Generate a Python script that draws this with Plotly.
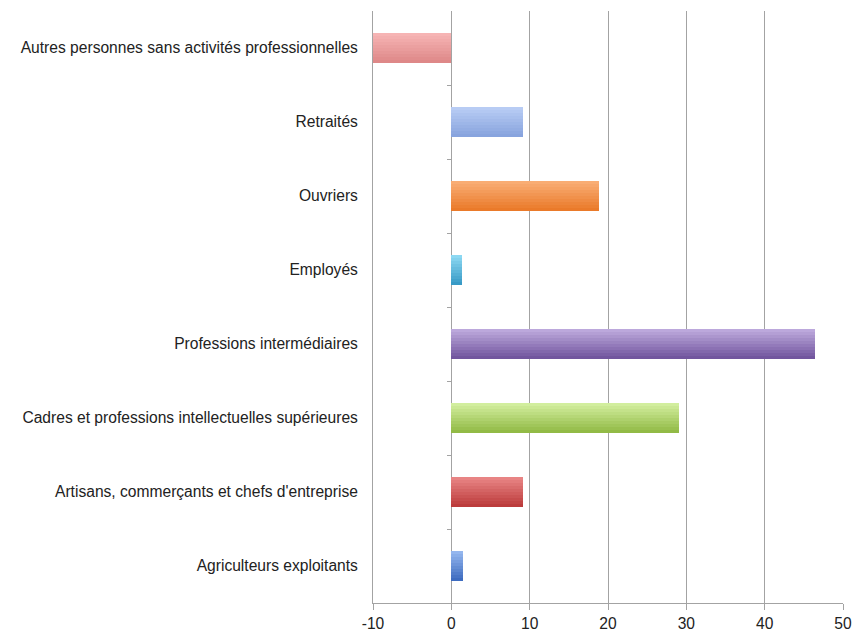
import plotly.graph_objects as go

categories = [
    "Agriculteurs exploitants",
    "Artisans, commerçants et chefs d'entreprise",
    "Cadres et professions intellectuelles supérieures",
    "Professions intermédiaires",
    "Employés",
    "Ouvriers",
    "Retraités",
    "Autres personnes sans activités professionnelles",
]
values = [1.5, 9.2, 29.0, 46.4, 1.3, 18.9, 9.2, -10.0]
x_ticks = [-10, 0, 10, 20, 30, 40, 50]

top_colors = ["#94b6ee", "#e88484", "#d2ee9e", "#bca8dc", "#8cd8f2", "#f9ad74", "#b8ccf4", "#f6b4b4"]
bot_colors = ["#3e6cc0", "#bc3c3c", "#92ba46", "#72569e", "#389ac6", "#ea7a2a", "#88a4de", "#de8888"]

def mix(c1, c2, t):
    a = [int(c1[i:i + 2], 16) for i in (1, 3, 5)]
    b = [int(c2[i:i + 2], 16) for i in (1, 3, 5)]
    return "rgb(%d,%d,%d)" % tuple(round(a[k] + (b[k] - a[k]) * t) for k in range(3))

BW = 0.4
N = 10
fig = go.Figure()
for s in range(N):
    w = BW * (1 - s / N)
    t = 1 - s / (N - 1)
    fig.add_trace(go.Bar(
        x=values, y=list(range(len(categories))), orientation="h",
        width=w, offset=BW / 2 - w,
        marker=dict(color=[mix(top_colors[i], bot_colors[i], t) for i in range(len(values))],
                    line=dict(width=0)),
        hoverinfo="skip", showlegend=False,
    ))

# invisible trace to carry the secondary axis (category ticks on the zero line)
fig.add_trace(go.Scatter(x=values, y=list(range(len(categories))), yaxis="y2",
                         mode="markers", marker=dict(opacity=0), hoverinfo="skip",
                         showlegend=False))

font = dict(family="Liberation Sans, Arial, sans-serif", size=15.6, color="#222222")
grey = "#a3a3a3"

fig.update_layout(
    width=852, height=633,
    margin=dict(l=373, r=9, t=11, b=30),
    paper_bgcolor="white", plot_bgcolor="white",
    barmode="overlay", bargap=0,
    font=font,
    xaxis=dict(range=[-10, 50], tickvals=x_ticks, ticktext=[str(v) for v in x_ticks],
               showgrid=True, gridcolor=grey, gridwidth=1, zeroline=False,
               showline=True, linecolor=grey, linewidth=1, automargin=False,
               ticks="outside", ticklen=6, tickcolor=grey, tickfont=font),
    yaxis=dict(range=[-0.5, 7.5], tickmode="array", tickvals=list(range(len(categories))),
               ticktext=categories, showgrid=False, zeroline=False, automargin=False,
               showline=True, linecolor=grey, linewidth=1, ticks="",
               ticklabelstandoff=11, tickfont=font),
    yaxis2=dict(range=[-0.5, 7.5], overlaying="y", anchor="free",
                position=(0 - (-10)) / 60, side="left", automargin=False,
                tickmode="array", tickvals=[i + 0.5 for i in range(len(categories) - 1)],
                showticklabels=False, ticks="outside", ticklen=4, tickcolor=grey,
                showgrid=False, zeroline=False, showline=False),
)

fig.write_html("out.html")
